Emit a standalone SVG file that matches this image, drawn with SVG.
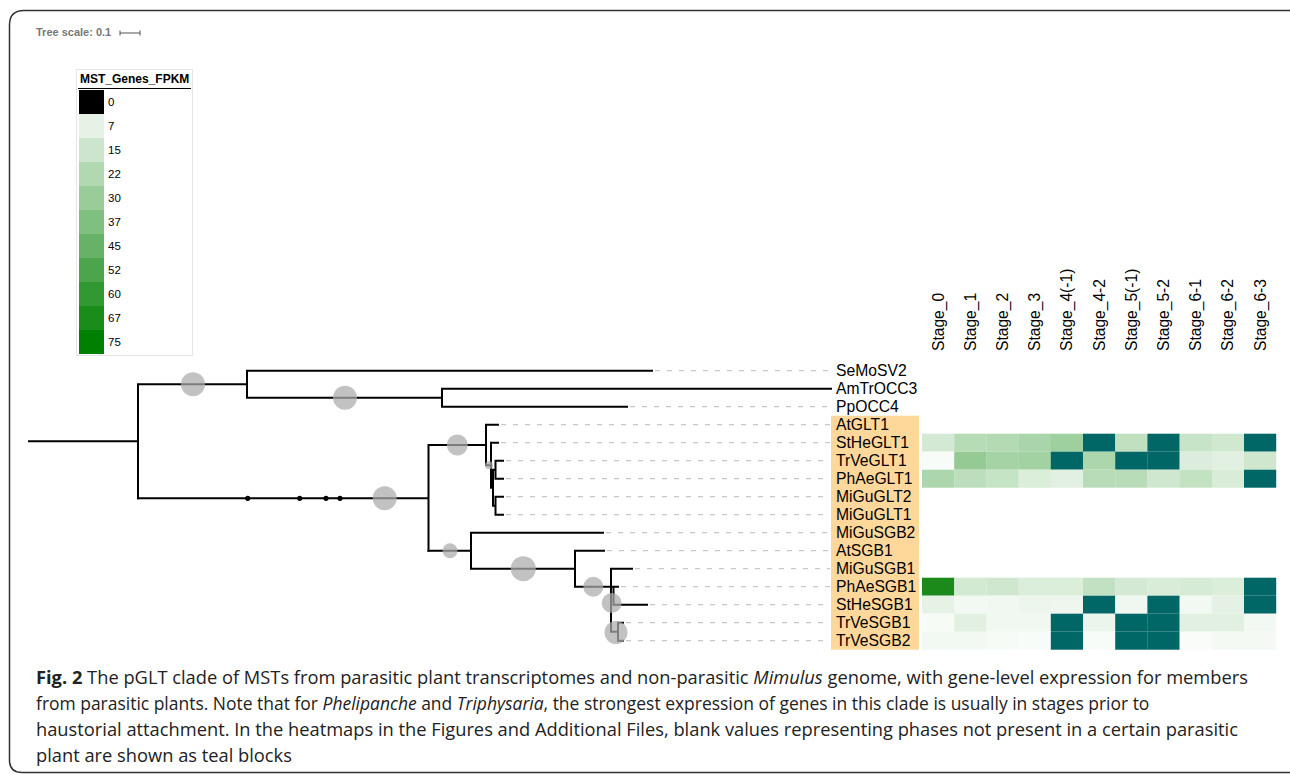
<svg xmlns="http://www.w3.org/2000/svg" width="1290" height="774" viewBox="0 0 1290 774">
<defs>
<style>
.br{stroke:#000;stroke-width:2;fill:none;stroke-linecap:square}
.ds{stroke:#c8c8c8;stroke-width:1.3;stroke-dasharray:5 7;fill:none}
.bs{fill:#acacac;fill-opacity:0.73}
.dot{fill:#000}
.lf{font-family:"Liberation Sans",Arial,sans-serif;font-size:15.7px;fill:#000}
.st{font-family:"Liberation Sans",Arial,sans-serif;font-size:15.6px;fill:#000}
.lg{font-family:"Liberation Sans",Arial,sans-serif;font-size:11.5px;fill:#000}
.cap{font-family:"Open Sans","Liberation Sans",sans-serif;font-size:18.3px;fill:#222}
</style>
</defs>
<rect width="1290" height="774" fill="#fff"/>
<path d="M1300,10.5 H24 Q9.5,10.5 9.5,25 V760 Q9.5,772.5 22,772.5 H1300" fill="none" stroke="#333" stroke-width="1.5"/>

<g id="tree-scale">
<text x="36" y="36" font-family="Liberation Sans,Arial,sans-serif" font-weight="bold" font-size="11px" fill="#777">Tree scale: 0.1</text>
<path d="M120,33 H140 M120,30.5 V35.5 M140,30.5 V35.5" stroke="#555" stroke-width="1" fill="none"/>
</g>

<g id="legend">
<rect x="76.5" y="69.5" width="116" height="286" fill="#fff" stroke="#e6e6e6" stroke-width="1"/>
<text x="80" y="83" font-family="Liberation Sans,Arial,sans-serif" font-weight="bold" font-size="12px" fill="#000">MST_Genes_FPKM</text>
<line x1="78" y1="88.5" x2="191" y2="88.5" stroke="#000" stroke-width="1"/>
<rect x="79" y="90" width="25" height="24" fill="#000000"/>
<rect x="79" y="114" width="25" height="24" fill="#e5f2e5"/>
<rect x="79" y="138" width="25" height="24" fill="#cce5cc"/>
<rect x="79" y="162" width="25" height="24" fill="#b2d8b2"/>
<rect x="79" y="186" width="25" height="24" fill="#99cc99"/>
<rect x="79" y="210" width="25" height="24" fill="#7fbf7f"/>
<rect x="79" y="234" width="25" height="24" fill="#66b266"/>
<rect x="79" y="258" width="25" height="24" fill="#4ca54c"/>
<rect x="79" y="282" width="25" height="24" fill="#329932"/>
<rect x="79" y="306" width="25" height="24" fill="#198c19"/>
<rect x="79" y="330" width="25" height="24" fill="#008000"/>
<text class="lg" x="108" y="106">0</text>
<text class="lg" x="108" y="130">7</text>
<text class="lg" x="108" y="154">15</text>
<text class="lg" x="108" y="178">22</text>
<text class="lg" x="108" y="202">30</text>
<text class="lg" x="108" y="226">37</text>
<text class="lg" x="108" y="250">45</text>
<text class="lg" x="108" y="274">52</text>
<text class="lg" x="108" y="298">60</text>
<text class="lg" x="108" y="322">67</text>
<text class="lg" x="108" y="346">75</text>
</g>

<g id="connectors">
<path class="ds" d="M655,370.7 H830 M630,406.7 H830 M501,424.7 H830 M501,442.7 H830 M506,460.7 H830 M506,478.7 H830 M506,496.7 H830 M506,514.7 H830 M606,532.7 H830 M607,550.7 H830 M635,568.7 H830 M621,586.7 H830 M650,604.7 H830 M626,622.7 H830 M626,640.7 H830"/>
<path class="br" d="M29,441.3 H138 M138,384.2 V498.3 M138,384.2 H247 M247,370.7 V397.7 M247,370.7 H652 M247,397.7 H442 M442,388.7 V406.7 M442,388.7 H831 M442,406.7 H627"/>
<path class="br" d="M138,498.3 H428.5 M428.5,445 V550.7 M428.5,445 H486 M486,424.7 V465.2 M486,424.7 H498 M486,465.2 H491 M491,442.7 V487.7 M491,442.7 H498 M491,487.7 H493 M493,469.7 V505.7 M493,469.7 H495.5 M493,505.7 H495.5 M495.5,460.7 V478.7 M495.5,496.7 V514.7 M495.5,460.7 H503 M495.5,478.7 H503 M495.5,496.7 H503 M495.5,514.7 H503"/>
<path class="br" d="M428.5,550.7 H471 M471,532.7 V568.7 M471,532.7 H603 M471,568.7 H575 M575,550.7 V586.7 M575,550.7 H604 M575,586.7 H611 M611,568.7 V631.7 M611,568.7 H632 M611,586.7 H618 M613.5,586.7 V604.7 M613.5,604.7 H647 M611,631.7 H618 M618,622.7 V640.7 M618,622.7 H623 M618,640.7 H623"/>
<circle class="dot" cx="247.7" cy="498.3" r="2.6"/>
<circle class="dot" cx="299.7" cy="498.3" r="2.6"/>
<circle class="dot" cx="326" cy="498.3" r="2.6"/>
<circle class="dot" cx="340" cy="498.3" r="2.6"/>
<circle class="bs" cx="193" cy="384.2" r="12"/>
<circle class="bs" cx="345" cy="397.7" r="12"/>
<circle class="bs" cx="384.7" cy="498.3" r="12"/>
<circle class="bs" cx="457.3" cy="445" r="10.5"/>
<circle class="bs" cx="489" cy="465.2" r="4"/>
<circle class="bs" cx="450" cy="550.7" r="7.5"/>
<circle class="bs" cx="523.3" cy="568.7" r="12.5"/>
<circle class="bs" cx="593.3" cy="586.7" r="10"/>
<circle class="bs" cx="611.7" cy="603" r="10"/>
<circle class="bs" cx="616" cy="632.5" r="11.5"/>
</g>

<rect x="831" y="415.7" width="88" height="234" fill="#fed79b"/>

<g id="leaf-SeMoSV2"><text class="lf" x="836" y="376.3">SeMoSV2</text></g>
<g id="leaf-AmTrOCC3"><text class="lf" x="836" y="394.3">AmTrOCC3</text></g>
<g id="leaf-PpOCC4"><text class="lf" x="836" y="412.3">PpOCC4</text></g>
<g id="leaf-AtGLT1"><text class="lf" x="836" y="430.3">AtGLT1</text></g>
<g id="leaf-StHeGLT1"><text class="lf" x="836" y="448.3">StHeGLT1</text></g>
<g id="leaf-TrVeGLT1"><text class="lf" x="836" y="466.3">TrVeGLT1</text></g>
<g id="leaf-PhAeGLT1"><text class="lf" x="836" y="484.3">PhAeGLT1</text></g>
<g id="leaf-MiGuGLT2"><text class="lf" x="836" y="502.3">MiGuGLT2</text></g>
<g id="leaf-MiGuGLT1"><text class="lf" x="836" y="520.3">MiGuGLT1</text></g>
<g id="leaf-MiGuSGB2"><text class="lf" x="836" y="538.3">MiGuSGB2</text></g>
<g id="leaf-AtSGB1"><text class="lf" x="836" y="556.3">AtSGB1</text></g>
<g id="leaf-MiGuSGB1"><text class="lf" x="836" y="574.3">MiGuSGB1</text></g>
<g id="leaf-PhAeSGB1"><text class="lf" x="836" y="592.3">PhAeSGB1</text></g>
<g id="leaf-StHeSGB1"><text class="lf" x="836" y="610.3">StHeSGB1</text></g>
<g id="leaf-TrVeSGB1"><text class="lf" x="836" y="628.3">TrVeSGB1</text></g>
<g id="leaf-TrVeSGB2"><text class="lf" x="836" y="646.3">TrVeSGB2</text></g>

<g id="heatmap-header">
<text class="st" transform="translate(943.5,351) rotate(-90)">Stage_0</text>
<text class="st" transform="translate(975.7,351) rotate(-90)">Stage_1</text>
<text class="st" transform="translate(1007.9,351) rotate(-90)">Stage_2</text>
<text class="st" transform="translate(1040.1,351) rotate(-90)">Stage_3</text>
<text class="st" transform="translate(1072.3,351) rotate(-90)">Stage_4(-1)</text>
<text class="st" transform="translate(1104.5,351) rotate(-90)">Stage_4-2</text>
<text class="st" transform="translate(1136.7,351) rotate(-90)">Stage_5(-1)</text>
<text class="st" transform="translate(1168.9,351) rotate(-90)">Stage_5-2</text>
<text class="st" transform="translate(1201.1,351) rotate(-90)">Stage_6-1</text>
<text class="st" transform="translate(1233.3,351) rotate(-90)">Stage_6-2</text>
<text class="st" transform="translate(1265.5,351) rotate(-90)">Stage_6-3</text>
</g>

<g id="heatmap">
<g id="hm-StHeGLT1">
<rect x="922" y="433.7" width="32.4" height="18" fill="#d4e9d4"/>
<rect x="954.2" y="433.7" width="32.4" height="18" fill="#b6dcb6"/>
<rect x="986.4" y="433.7" width="32.4" height="18" fill="#b3dab3"/>
<rect x="1018.6" y="433.7" width="32.4" height="18" fill="#aad5aa"/>
<rect x="1050.8" y="433.7" width="32.4" height="18" fill="#9ecf9e"/>
<rect x="1083" y="433.7" width="32.4" height="18" fill="#006766"/>
<rect x="1115.2" y="433.7" width="32.4" height="18" fill="#c0e0c0"/>
<rect x="1147.4" y="433.7" width="32.4" height="18" fill="#006766"/>
<rect x="1179.6" y="433.7" width="32.4" height="18" fill="#c8e4c8"/>
<rect x="1211.8" y="433.7" width="32.4" height="18" fill="#d0e8d0"/>
<rect x="1244" y="433.7" width="32.2" height="18" fill="#006766"/>
</g>
<g id="hm-TrVeGLT1">
<rect x="922" y="451.7" width="32.4" height="18" fill="#f8fcf8"/>
<rect x="954.2" y="451.7" width="32.4" height="18" fill="#95ca95"/>
<rect x="986.4" y="451.7" width="32.4" height="18" fill="#a5d3a5"/>
<rect x="1018.6" y="451.7" width="32.4" height="18" fill="#a2d2a2"/>
<rect x="1050.8" y="451.7" width="32.4" height="18" fill="#006766"/>
<rect x="1083" y="451.7" width="32.4" height="18" fill="#acd7ac"/>
<rect x="1115.2" y="451.7" width="32.4" height="18" fill="#006766"/>
<rect x="1147.4" y="451.7" width="32.4" height="18" fill="#006766"/>
<rect x="1179.6" y="451.7" width="32.4" height="18" fill="#ddeddd"/>
<rect x="1211.8" y="451.7" width="32.4" height="18" fill="#e2f0e2"/>
<rect x="1244" y="451.7" width="32.2" height="18" fill="#cfe7cf"/>
</g>
<g id="hm-PhAeGLT1">
<rect x="922" y="469.7" width="32.4" height="18" fill="#acd6ac"/>
<rect x="954.2" y="469.7" width="32.4" height="18" fill="#bcdebc"/>
<rect x="986.4" y="469.7" width="32.4" height="18" fill="#c5e3c5"/>
<rect x="1018.6" y="469.7" width="32.4" height="18" fill="#daeeda"/>
<rect x="1050.8" y="469.7" width="32.4" height="18" fill="#e1f0e1"/>
<rect x="1083" y="469.7" width="32.4" height="18" fill="#b8dcb8"/>
<rect x="1115.2" y="469.7" width="32.4" height="18" fill="#b8dcb8"/>
<rect x="1147.4" y="469.7" width="32.4" height="18" fill="#cfe7cf"/>
<rect x="1179.6" y="469.7" width="32.4" height="18" fill="#c2e2c2"/>
<rect x="1211.8" y="469.7" width="32.4" height="18" fill="#d8ecd8"/>
<rect x="1244" y="469.7" width="32.2" height="18" fill="#006766"/>
</g>
<g id="hm-PhAeSGB1">
<rect x="922" y="577.7" width="32.4" height="18" fill="#1b8a1b"/>
<rect x="954.2" y="577.7" width="32.4" height="18" fill="#d2e9d2"/>
<rect x="986.4" y="577.7" width="32.4" height="18" fill="#cfe7cf"/>
<rect x="1018.6" y="577.7" width="32.4" height="18" fill="#dbeedb"/>
<rect x="1050.8" y="577.7" width="32.4" height="18" fill="#daeeda"/>
<rect x="1083" y="577.7" width="32.4" height="18" fill="#c2e1c2"/>
<rect x="1115.2" y="577.7" width="32.4" height="18" fill="#d3e9d3"/>
<rect x="1147.4" y="577.7" width="32.4" height="18" fill="#d8ecd8"/>
<rect x="1179.6" y="577.7" width="32.4" height="18" fill="#d6ebd6"/>
<rect x="1211.8" y="577.7" width="32.4" height="18" fill="#daeeda"/>
<rect x="1244" y="577.7" width="32.2" height="18" fill="#006766"/>
</g>
<g id="hm-StHeSGB1">
<rect x="922" y="595.7" width="32.4" height="18" fill="#e6f2e6"/>
<rect x="954.2" y="595.7" width="32.4" height="18" fill="#f2f8f2"/>
<rect x="986.4" y="595.7" width="32.4" height="18" fill="#f1f8f1"/>
<rect x="1018.6" y="595.7" width="32.4" height="18" fill="#edf6ed"/>
<rect x="1050.8" y="595.7" width="32.4" height="18" fill="#eef6ee"/>
<rect x="1083" y="595.7" width="32.4" height="18" fill="#006766"/>
<rect x="1115.2" y="595.7" width="32.4" height="18" fill="#f0f7f0"/>
<rect x="1147.4" y="595.7" width="32.4" height="18" fill="#006766"/>
<rect x="1179.6" y="595.7" width="32.4" height="18" fill="#f2f8f2"/>
<rect x="1211.8" y="595.7" width="32.4" height="18" fill="#e4f1e4"/>
<rect x="1244" y="595.7" width="32.2" height="18" fill="#006766"/>
</g>
<g id="hm-TrVeSGB1">
<rect x="922" y="613.7" width="32.4" height="18" fill="#f6fbf6"/>
<rect x="954.2" y="613.7" width="32.4" height="18" fill="#e2f0e2"/>
<rect x="986.4" y="613.7" width="32.4" height="18" fill="#f1f8f1"/>
<rect x="1018.6" y="613.7" width="32.4" height="18" fill="#f1f8f1"/>
<rect x="1050.8" y="613.7" width="32.4" height="18" fill="#006766"/>
<rect x="1083" y="613.7" width="32.4" height="18" fill="#ebf5eb"/>
<rect x="1115.2" y="613.7" width="32.4" height="18" fill="#006766"/>
<rect x="1147.4" y="613.7" width="32.4" height="18" fill="#006766"/>
<rect x="1179.6" y="613.7" width="32.4" height="18" fill="#e2f0e2"/>
<rect x="1211.8" y="613.7" width="32.4" height="18" fill="#e2f0e2"/>
<rect x="1244" y="613.7" width="32.2" height="18" fill="#f2f8f2"/>
</g>
<g id="hm-TrVeSGB2">
<rect x="922" y="631.7" width="32.4" height="18" fill="#f2f8f2"/>
<rect x="954.2" y="631.7" width="32.4" height="18" fill="#f2f8f2"/>
<rect x="986.4" y="631.7" width="32.4" height="18" fill="#f6fbf6"/>
<rect x="1018.6" y="631.7" width="32.4" height="18" fill="#f8fcf8"/>
<rect x="1050.8" y="631.7" width="32.4" height="18" fill="#006766"/>
<rect x="1083" y="631.7" width="32.4" height="18" fill="#f8fcf8"/>
<rect x="1115.2" y="631.7" width="32.4" height="18" fill="#006766"/>
<rect x="1147.4" y="631.7" width="32.4" height="18" fill="#006766"/>
<rect x="1179.6" y="631.7" width="32.4" height="18" fill="#f9fcf9"/>
<rect x="1211.8" y="631.7" width="32.4" height="18" fill="#f4f9f4"/>
<rect x="1244" y="631.7" width="32.2" height="18" fill="#f4f9f4"/>
</g>
</g>

<g id="caption">
<text class="cap" x="36" y="684"><tspan font-weight="bold">Fig. 2</tspan> The pGLT clade of MSTs from parasitic plant transcriptomes and non-parasitic <tspan font-style="italic">Mimulus</tspan> genome, with gene-level expression for members</text>
<text class="cap" x="37.7" y="710" transform="scale(0.955,1)">from parasitic plants. Note that for <tspan font-style="italic">Phelipanche</tspan> and <tspan font-style="italic">Triphysaria</tspan>, the strongest expression of genes in this clade is usually in stages prior to</text>
<text class="cap" x="36" y="736">haustorial attachment. In the heatmaps in the Figures and Additional Files, blank values representing phases not present in a certain parasitic</text>
<text class="cap" x="36" y="762">plant are shown as teal blocks</text>
</g>
</svg>
